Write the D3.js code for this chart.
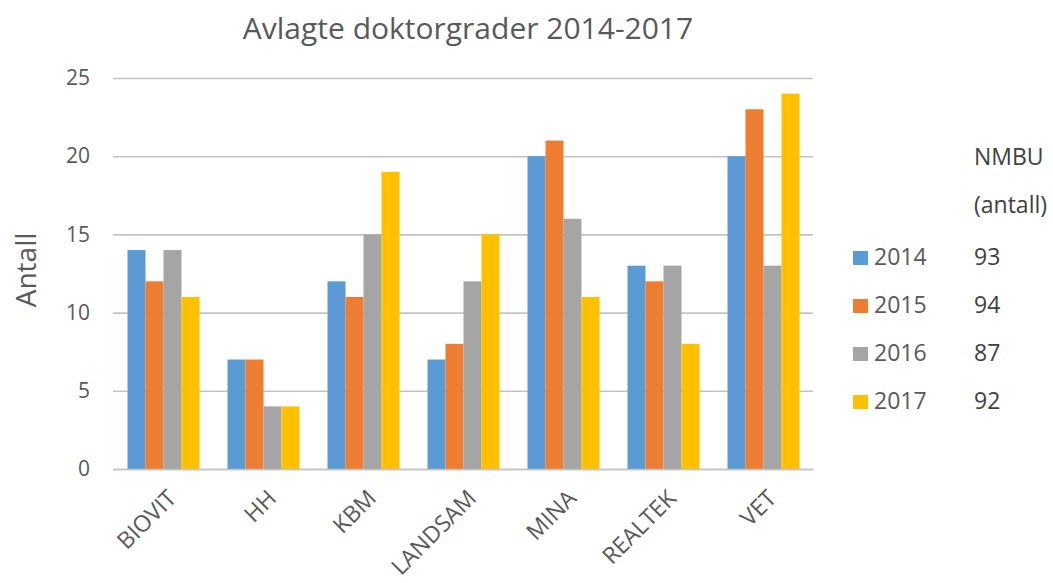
<!DOCTYPE html>
<html><head><meta charset="utf-8">
<script src="https://cdn.jsdelivr.net/npm/d3@7"></script>
<style>body{margin:0;background:#fff}svg{display:block}text{font-family:"Open Sans",sans-serif}</style>
</head><body><svg id="c" width="1053" height="583"></svg>
<script>
const title = "Avlagte doktorgrader 2014-2017";
const categories = ["BIOVIT","HH","KBM","LANDSAM","MINA","REALTEK","VET"];
const years = ["2014","2015","2016","2017"];
const v2014 = [14,7,12,7,20,13,20];
const v2015 = [12,7,11,8,21,12,23];
const v2016 = [14,4,15,12,16,13,13];
const v2017 = [11,4,19,15,11,8,24];
const totals = ["93","94","87","92"];
const yTicks = [0,5,10,15,20,25];
const colors = ["#5B9BD5","#ED7D31","#A5A5A5","#FFC000"];
const series = [v2014,v2015,v2016,v2017];

const svg = d3.select("#c");
const x0 = d3.scaleBand().domain(categories).range([113,813]).padding(0);
const x1 = d3.scaleBand().domain(years).range([14.5, 86.5]).padding(0);
const y = d3.scaleLinear().domain([0,25]).range([469,78]);
const txt = "#595959";

// gridlines
const yAxis = d3.axisLeft(y).tickValues(yTicks).tickSize(-(813-113)).tickPadding(23);
const ga = svg.append("g").attr("transform","translate(113,0)").call(yAxis);
ga.select(".domain").remove();
ga.selectAll(".tick line").attr("stroke","#C4C4C4").attr("stroke-width",1.6);
ga.selectAll(".tick text").attr("fill",txt).attr("font-size",21).attr("font-family","Open Sans");

// bars
const g = svg.append("g");
categories.forEach((c,i)=>{
  series.forEach((s,j)=>{
    g.append("rect").attr("x",x0(c)+x1(years[j])).attr("y",y(s[i]))
     .attr("width",x1.bandwidth()).attr("height",y(0)-y(s[i])).attr("fill",colors[j]);
  });
});

// x labels
const xAxis = d3.axisBottom(x0).tickSize(0).tickPadding(0);
const gx = svg.append("g").attr("transform","translate(0,469)").call(xAxis);
gx.select(".domain").attr("stroke","#C4C4C4").attr("stroke-width",1.6);
gx.selectAll(".tick text").attr("fill",txt).attr("font-size",23).attr("font-family","Open Sans")
  .attr("text-anchor","end").attr("dy","0.72em").attr("y",0)
  .attr("transform","translate(3,19) rotate(-45)");

// title
svg.append("text").attr("x",468).attr("y",39).attr("text-anchor","middle")
  .attr("fill",txt).attr("font-size",30).text(title);

// y label
svg.append("text").attr("transform","translate(36,270) rotate(-90)").attr("text-anchor","middle")
  .attr("fill",txt).attr("font-size",28).text("Antall");

// legend
const lg = svg.append("g");
const rowY = d3.scalePoint().domain(years).range([265,409]);
years.forEach((yr,j)=>{
  lg.append("rect").attr("x",853).attr("y",rowY(yr)-14).attr("width",15).attr("height",14).attr("fill",colors[j]);
  lg.append("text").attr("x",874).attr("y",rowY(yr)).attr("fill",txt).attr("font-size",23).text(yr);
  lg.append("text").attr("x",974).attr("y",rowY(yr)).attr("fill","#404040").attr("font-size",23).text(totals[j]);
});
lg.append("text").attr("x",974).attr("y",165).attr("fill","#404040").attr("font-size",23).text("NMBU");
lg.append("text").attr("x",974).attr("y",213).attr("fill","#404040").attr("font-size",23).text("(antall)");
</script></body></html>
